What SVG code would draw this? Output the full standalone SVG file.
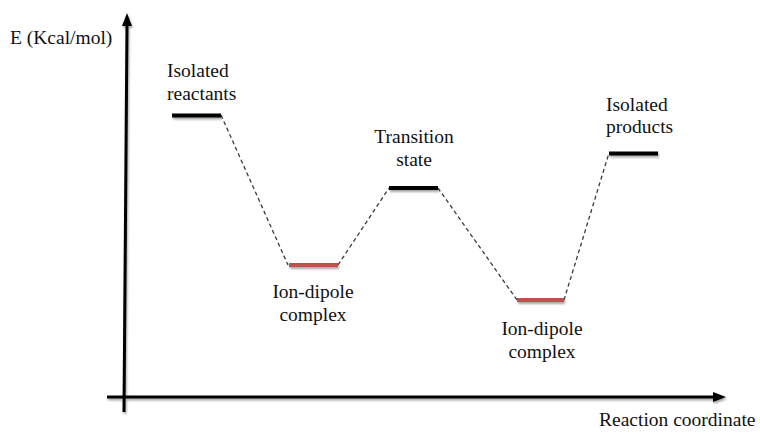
<svg xmlns="http://www.w3.org/2000/svg" width="760" height="439" viewBox="0 0 760 439">
<style>
.t{font-family:'Times New Roman','Liberation Serif',Tinos,'DejaVu Serif','Noto Serif',serif;font-size:19.5px;fill:#111}
.lvl{fill:#000}
.red{fill:#c0504d}
.dash{stroke:#3a3a3a;stroke-width:1.3;stroke-dasharray:4 3;fill:none}
.axis{stroke:#000;stroke-width:3;fill:none}
</style>
<defs>
<filter id="sh" filterUnits="userSpaceOnUse" x="0" y="0" width="760" height="439">
<feGaussianBlur in="SourceAlpha" stdDeviation="1.2"/>
<feOffset dx="1" dy="2" result="b"/>
<feComponentTransfer><feFuncA type="linear" slope="0.35"/></feComponentTransfer>
<feMerge><feMergeNode/><feMergeNode in="SourceGraphic"/></feMerge>
</filter>
</defs>
<g id="axes" filter="url(#sh)">
<line class="axis" x1="124" y1="412" x2="127" y2="24"/>
<polygon points="127,13 122,26 132,26" fill="#000"/>
<line class="axis" x1="107" y1="397" x2="714" y2="397"/>
<polygon points="726,397 713,392 713,402" fill="#000"/>
</g>
<text class="t" x="10" y="44">E (Kcal/mol)</text>
<text class="t" x="599" y="426">Reaction coordinate</text>
<g id="connectors">
<line class="dash" x1="221" y1="115" x2="288" y2="265"/>
<line class="dash" x1="338" y1="265" x2="389" y2="188"/>
<line class="dash" x1="438" y1="188" x2="517" y2="300"/>
<line class="dash" x1="564" y1="300" x2="609" y2="153"/>
</g>
<g id="reactants">
<rect class="lvl" x="172" y="113.5" width="49" height="4" filter="url(#sh)"/>
<text class="t" x="167" y="77">Isolated</text>
<text class="t" x="167" y="100">reactants</text>
</g>
<g id="complex1">
<rect class="red" x="289" y="263" width="49" height="4" filter="url(#sh)"/>
<text class="t" x="313" y="298" text-anchor="middle">Ion-dipole</text>
<text class="t" x="313" y="321" text-anchor="middle">complex</text>
</g>
<g id="transition">
<rect class="lvl" x="389" y="186" width="49" height="4" filter="url(#sh)"/>
<text class="t" x="414" y="143" text-anchor="middle">Transition</text>
<text class="t" x="414" y="166" text-anchor="middle">state</text>
</g>
<g id="complex2">
<rect class="red" x="517" y="298" width="47" height="4" filter="url(#sh)"/>
<text class="t" x="542" y="335" text-anchor="middle">Ion-dipole</text>
<text class="t" x="542" y="358" text-anchor="middle">complex</text>
</g>
<g id="products">
<rect class="lvl" x="609" y="151.5" width="49" height="4" filter="url(#sh)"/>
<text class="t" x="606" y="111">Isolated</text>
<text class="t" x="606" y="133">products</text>
</g>
</svg>
